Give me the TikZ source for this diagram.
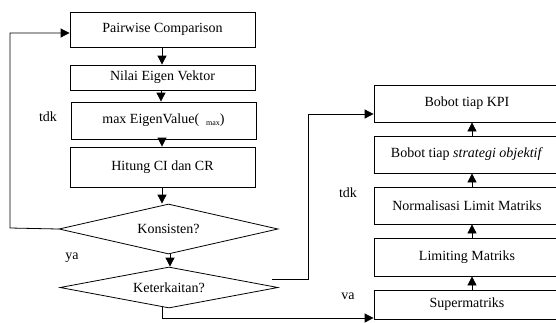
\documentclass[tikz,border=0pt]{standalone}
\usepackage{fontspec}
\setmainfont{Liberation Serif}
\usetikzlibrary{arrows.meta,shapes.geometric}
\begin{document}
\begin{tikzpicture}[x=1pt,y=-1pt,
  every node/.style={font=\fontsize{14}{16}\selectfont},
  box/.style={draw,line width=0.8pt,rectangle,inner sep=0pt},
  dia/.style={draw,line width=0.8pt,diamond,inner sep=0pt,aspect=4},
  lbl/.style={inner sep=0pt},
  conn/.style={line width=0.8pt,-{Triangle[width=9pt,length=9pt]}},
  line/.style={line width=0.8pt}]
\useasboundingbox (0,0) rectangle (556,322);
% left column
\node[box,minimum width=185pt,minimum height=35pt] (pw) at (162.5,29.5) {Pairwise Comparison};
\node[box,minimum width=185pt,minimum height=25pt] (ne) at (162.5,77.5) {Nilai Eigen Vektor};
\node[box,minimum width=185pt,minimum height=37pt] (me) at (163.5,120.5) {max EigenValue(\hspace{7pt}\raisebox{-2pt}{\fontsize{8}{8}\selectfont max})};
\node[box,minimum width=185pt,minimum height=40pt] (hc) at (162.5,167) {Hitung CI dan CR};
\node[dia,minimum width=219pt,minimum height=50pt] (ko) at (168.5,229) {Konsisten?};
\node[dia,minimum width=218pt,minimum height=41pt] (ke) at (169,287.5) {Keterkaitan?};
% right column
\node[box,minimum width=186pt,minimum height=37pt] (kpi) at (467,103.5) {Bobot tiap KPI};
\node[box,minimum width=186pt,minimum height=37pt] (so) at (467,154.5) {Bobot tiap \textit{strategi objektif}};
\node[box,minimum width=186pt,minimum height=37pt] (nl) at (467,205.5) {Normalisasi Limit Matriks};
\node[box,minimum width=186pt,minimum height=38pt] (lm) at (467,257) {Limiting Matriks};
\node[box,minimum width=186pt,minimum height=29pt] (sm) at (467,304.5) {Supermatriks};
% labels
\node[lbl] (t1) at (48,117) {tdk};
\node[lbl] (y1) at (72,258) {ya};
\node[lbl] (t2) at (348,193) {tdk};
\node[lbl] (v2) at (348,296) {va};
% coordinates
\coordinate (c1) at (10,228);
\coordinate (c2) at (272,279);
\coordinate (c3) at (308,279);
\coordinate (c4) at (162,307);
\coordinate (c5) at (162,318);
% connectors left
\draw[conn] ([xshift=-0.5pt]pw.south) -- ([xshift=-0.5pt]ne.north);
\draw[conn] ([xshift=-1.5pt]ne.south) -- ([xshift=-2.5pt]me.north);
\draw[conn] ([xshift=-1.5pt]me.south) -- ([xshift=-0.5pt]hc.north);
\draw[conn] ([xshift=-0.5pt]hc.south) -- ([xshift=-6.5pt]ko.north);
\draw[conn] ([xshift=1.5pt]ko.south) -- ([xshift=1pt]ke.north);
\draw[conn] (ko.west) -- (c1) |- ([yshift=-3.5pt]pw.west);
% connectors to right
\draw[conn] (c2) -- (c3) |- ([yshift=-10.5pt]kpi.west);
\draw[conn] (c4) -- (c5) -- ([yshift=-13.5pt]sm.west);
% connectors right
\draw[conn] ([xshift=5pt]sm.north) -- ([xshift=5pt]lm.south);
\draw[conn] ([xshift=5pt]lm.north) -- ([xshift=5pt]nl.south);
\draw[conn] ([xshift=5pt]nl.north) -- ([xshift=5pt]so.south);
\draw[conn] ([xshift=5pt]so.north) -- ([xshift=5pt]kpi.south);
\end{tikzpicture}
\end{document}
